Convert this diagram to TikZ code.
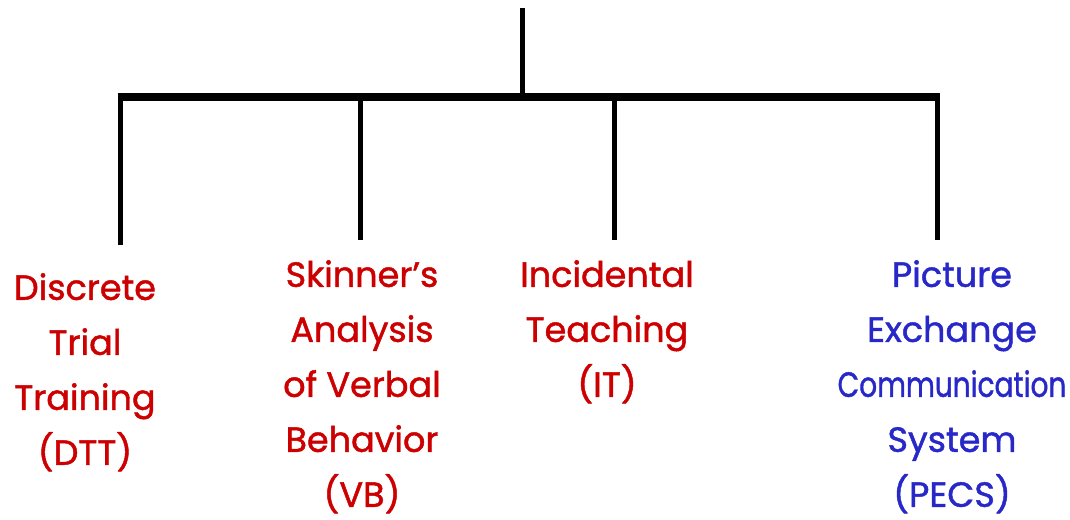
\documentclass[tikz,border=0pt]{standalone}
\usepackage{graphicx}
\usepackage{fontspec}
\setmainfont{Poppins}[FakeBold=1.3]
\definecolor{methodred}{RGB}{204,0,0}
\definecolor{methodblue}{RGB}{40,40,200}
\tikzset{
  label/.style={align=center, inner sep=0pt, anchor=north, font=\fontsize{35}{55}\selectfont},
  branch/.style={line width=5pt}
}
\begin{document}
\begin{tikzpicture}[x=1pt,y=-1pt]
\useasboundingbox (0,0) rectangle (1070,519);
\coordinate (root) at (522,8);
\coordinate (hub) at (522,97);
\coordinate (j1) at (120,97);
\coordinate (j2) at (360,97);
\coordinate (j3) at (614,97);
\coordinate (j4) at (937,97);
\coordinate (e1) at (120,245);
\coordinate (e2) at (360,240);
\coordinate (e3) at (614,240);
\coordinate (e4) at (937,240);
\draw[branch] (root) -- (hub);
\draw[line width=8pt] ([xshift=-2.5pt]j1) -- ([xshift=2.5pt]j4);
\draw[branch] (j1) -- (e1);
\draw[branch] (j2) -- (e2);
\draw[branch] (j3) -- (e3);
\draw[branch] (j4) -- (e4);
\node[label, text=methodred] (dtt) at (85,273) {Discrete\\Trial\\Training\\(DTT)};
\node[label, text=methodred] (vb) at (362,260) {Skinner’s\\Analysis\\of Verbal\\Behavior\\(VB)};
\node[label, text=methodred] (it) at (607,260) {Incidental\\Teaching\\(IT)};
\node[label, text=methodblue] (pecs) at (952,260) {Picture\\Exchange\\\scalebox{0.80}[1]{Communication}\\System\\(PECS)};
\end{tikzpicture}
\end{document}
